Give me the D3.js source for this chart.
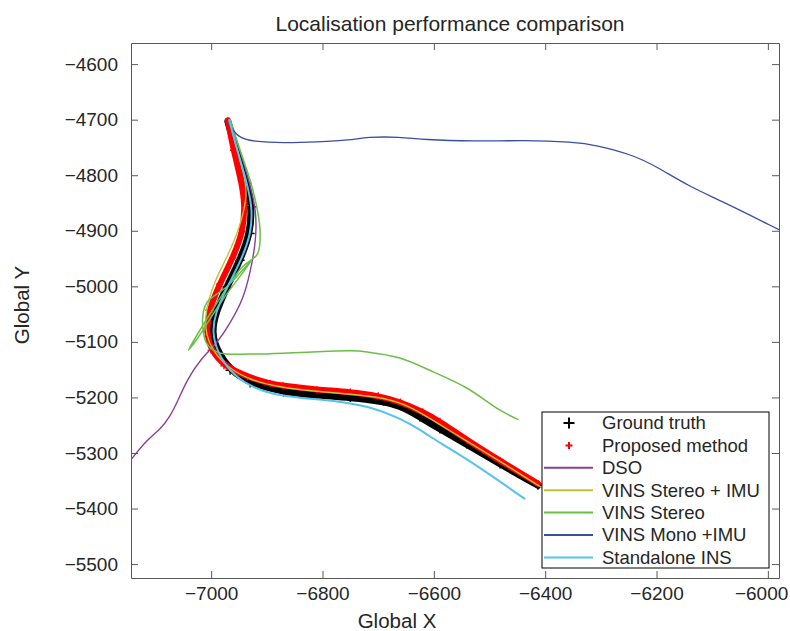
<!DOCTYPE html>
<html>
<head>
<meta charset="utf-8">
<script src="https://d3js.org/d3.v7.min.js"></script>
<style>
  body { margin: 0; background: #fff; }
  svg { display: block; font-family: "Liberation Sans", Arial, Helvetica, sans-serif; }
  .axis path, .axis line { stroke: #595959; stroke-width: 1; }
  .axis text { fill: #262626; font-size: 19px; }
  .label { fill: #262626; }
</style>
</head>
<body>
<svg width="790" height="631"></svg>
<script>
// tick values
var xTicks = [-7000, -6800, -6600, -6400, -6200, -6000];
var yTicks = [-4600, -4700, -4800, -4900, -5000, -5100, -5200, -5300, -5400, -5500];

// Ground truth
var gtX = [-6970, -6954, -6936, -6927, -6930, -6948, -6972, -6993, -6999, -6990, -6966, -6930, -6870, -6810, -6750, -6690, -6660, -6625, -6589, -6541, -6481, -6413];
var gtY = [-4703, -4761, -4815, -4857, -4905, -4953, -5001, -5049, -5085, -5115, -5151, -5174, -5190, -5196, -5200, -5207, -5215, -5235, -5257, -5284, -5320, -5358];

// Proposed method
var propX = [-6970, -6960, -6946, -6939, -6943, -6961, -6985, -7004, -7009, -7000, -6977, -6935, -6894, -6871, -6810, -6750, -6700, -6660, -6620, -6589, -6540, -6481, -6413];
var propY = [-4701, -4755, -4809, -4854, -4902, -4949, -4996, -5043, -5082, -5115, -5143, -5163, -5175, -5179, -5186, -5190, -5197, -5208, -5226, -5243, -5277, -5314, -5355];

// DSO
var dsoX = [-6968, -6948, -6930, -6919, -6919, -6930, -6943, -6966, -6989, -7020, -7043, -7059, -7074, -7092, -7115, -7144];
var dsoY = [-4701, -4755, -4818, -4863, -4917, -4976, -5025, -5066, -5102, -5132, -5168, -5204, -5235, -5258, -5276, -5312];

// VINS Stereo + IMU
var vsiX = [-6968, -6953, -6939, -6935, -6948, -6971, -6993, -7005, -7011, -7009, -6998, -6970, -6930, -6871, -6810, -6750, -6691, -6643, -6589, -6540, -6481, -6405];
var vsiY = [-4699, -4755, -4809, -4836, -4893, -4947, -4989, -5025, -5055, -5088, -5115, -5147, -5169, -5183, -5189, -5194, -5200, -5215, -5249, -5279, -5315, -5363];

// VINS Stereo
var vsX = [-6966, -6948, -6930, -6917, -6912, -6917, -6946, -7041, -7027, -6980, -6928, -6970, -7007, -7014, -7013, -7005, -6984, -6930, -6840, -6750, -6720, -6661, -6601, -6541, -6481, -6448];
var vsY = [-4699, -4755, -4809, -4863, -4904, -4942, -4967, -5115, -5097, -5025, -4954, -4999, -5028, -5046, -5088, -5107, -5120, -5122, -5119, -5116, -5118, -5129, -5154, -5183, -5223, -5240];

// VINS Mono + IMU
var vmX = [-6970, -6952, -6925, -6871, -6810, -6750, -6720, -6661, -6619, -6529, -6440, -6350, -6307, -6241, -6199, -6140, -6086, -5980];
var vmY = [-4704, -4733, -4739, -4742, -4740, -4737, -4731, -4731, -4736, -4739, -4737, -4740, -4746, -4764, -4785, -4821, -4845, -4898];

// Standalone INS
var insX = [-6968, -6953, -6937, -6926, -6928, -6946, -6971, -6993, -6998, -6989, -6966, -6934, -6894, -6840, -6768, -6714, -6661, -6625, -6589, -6529, -6436];
var insY = [-4699, -4755, -4809, -4857, -4904, -4953, -5001, -5048, -5084, -5118, -5154, -5178, -5194, -5201, -5207, -5217, -5237, -5258, -5282, -5318, -5383];

var names = ["Ground truth", "Proposed method", "DSO", "VINS Stereo + IMU", "VINS Stereo", "VINS Mono +IMU", "Standalone INS"];
var colors = ["#000000", "#ff0000", "#8b3f96", "#c3c03a", "#6abf45", "#3a4ea3", "#55c3ef"];

var svg = d3.select("svg");
var margin = {left: 131, top: 43};
var width = 648, height = 535;

var x = d3.scaleLinear().domain([-7144, -5980]).range([0, width]);
var y = d3.scaleLinear().domain([-5525, -4562]).range([height, 0]);

var g = svg.append("g").attr("transform", "translate(" + margin.left + "," + margin.top + ")");

g.append("clipPath").attr("id", "clip")
  .append("rect").attr("width", width).attr("height", height);

function makeLine(curve) {
    return d3.line()
        .x(function(d) { return x(d[0]); })
        .y(function(d) { return y(d[1]); })
        .curve(curve);
}
var smooth = makeLine(d3.curveBasis);
var sharp = makeLine(d3.curveCatmullRom.alpha(0.5));

var plotArea = g.append("g").attr("clip-path", "url(#clip)");

// marker tracks (ground truth and proposed) drawn as thick band + crosses
function markerTrack(xs, ys, color, bandWidth, half) {
    var pts = d3.zip(xs, ys);
    plotArea.append("path")
        .attr("d", smooth(pts))
        .attr("fill", "none")
        .attr("stroke", color)
        .attr("stroke-width", bandWidth)
        .attr("stroke-linecap", "round");
    plotArea.selectAll(null)
        .data(pts.slice(1))
      .enter().append("path")
        .attr("transform", function(d) { return "translate(" + x(d[0]) + "," + y(d[1]) + ")"; })
        .attr("d", "M" + (-half) + ",0H" + half + "M0," + (-half) + "V" + half)
        .attr("stroke", color)
        .attr("stroke-width", 1.4);
}

markerTrack(gtX, gtY, colors[0], 7, 4.5);
markerTrack(propX, propY, colors[1], 6, 3.5);

var lineSeries = [
    {xs: dsoX, ys: dsoY, c: colors[2], w: 1.4, gen: smooth},
    {xs: vsiX, ys: vsiY, c: colors[3], w: 1.4, gen: smooth},
    {xs: vsX, ys: vsY, c: colors[4], w: 1.5, gen: sharp},
    {xs: vmX, ys: vmY, c: colors[5], w: 1.3, gen: smooth},
    {xs: insX, ys: insY, c: colors[6], w: 2, gen: smooth}
];

lineSeries.forEach(function(s) {
    plotArea.append("path")
        .attr("d", s.gen(d3.zip(s.xs, s.ys)))
        .attr("fill", "none")
        .attr("stroke", s.c)
        .attr("stroke-width", s.w)
        .attr("stroke-linejoin", "round");
});

// axes, ticks pointing inwards on all four sides
var fmt = d3.format("d");
var xAxis = g.append("g").attr("class", "axis")
    .attr("transform", "translate(0," + height + ")")
    .call(d3.axisBottom(x).tickValues(xTicks).tickFormat(fmt).tickSizeInner(-7).tickSizeOuter(0).tickPadding(9));
// last label would run off the page, pull it in like the original
xAxis.selectAll(".tick text").filter(function(d) { return d === -6000; })
    .attr("text-anchor", "end").attr("dx", "1.05em");

g.append("g").attr("class", "axis")
    .call(d3.axisLeft(y).tickValues(yTicks).tickFormat(fmt).tickSizeInner(-7).tickSizeOuter(0).tickPadding(13));
g.append("g").attr("class", "axis")
    .call(d3.axisTop(x).tickValues(xTicks).tickFormat("").tickSizeInner(-7).tickSizeOuter(0));
g.append("g").attr("class", "axis")
    .attr("transform", "translate(" + width + ",0)")
    .call(d3.axisRight(y).tickValues(yTicks).tickFormat("").tickSizeInner(-7).tickSizeOuter(0));

// title and axis labels
svg.append("text").attr("class", "label")
    .attr("x", 450).attr("y", 31)
    .attr("text-anchor", "middle")
    .style("font-size", "21px")
    .text("Localisation performance comparison");

svg.append("text").attr("class", "label")
    .attr("x", 397).attr("y", 628)
    .attr("text-anchor", "middle")
    .style("font-size", "20.5px")
    .text("Global X");

svg.append("text").attr("class", "label")
    .attr("transform", "translate(29,305) rotate(-90)")
    .attr("text-anchor", "middle")
    .style("font-size", "20.5px")
    .text("Global Y");

// legend
var legend = svg.append("g").attr("transform", "translate(542,412)");
legend.append("rect")
    .attr("width", 227).attr("height", 156)
    .attr("fill", "#fff")
    .attr("stroke", "#000")
    .attr("stroke-width", 1);

var item = legend.selectAll(".item")
    .data(names)
  .enter().append("g")
    .attr("class", "item")
    .attr("transform", function(d, i) { return "translate(0," + (11 + i * 22.4) + ")"; });

item.each(function(d, i) {
    var el = d3.select(this);
    if (i < 2) {
        var h = i === 0 ? 5.5 : 3.5;
        el.append("path")
            .attr("transform", "translate(27,0)")
            .attr("d", "M" + (-h) + ",0H" + h + "M0," + (-h) + "V" + h)
            .attr("stroke", colors[i])
            .attr("stroke-width", 2);
    } else {
        el.append("line")
            .attr("x1", 2).attr("x2", 51)
            .attr("stroke", colors[i])
            .attr("stroke-width", 2);
    }
});

item.append("text")
    .attr("class", "label")
    .attr("x", 60)
    .attr("dy", "0.35em")
    .style("font-size", "18.5px")
    .text(function(d) { return d; });
</script>
</body>
</html>
